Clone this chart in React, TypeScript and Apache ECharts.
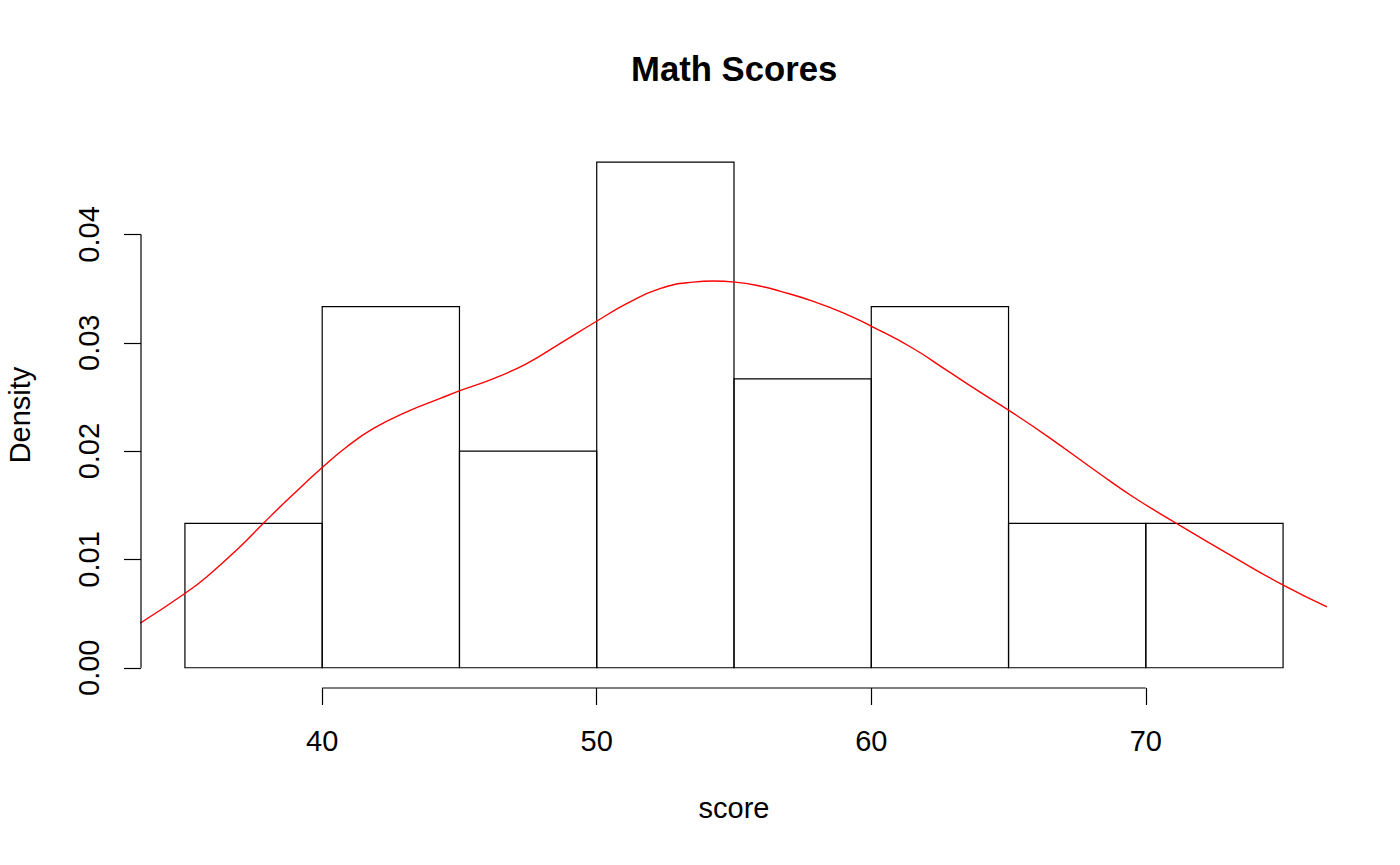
import React, { useEffect, useRef } from "react";
import * as echarts from "echarts";

// Histogram breaks (bin edges) and densities
const breaks = [35, 40, 45, 50, 55, 60, 65, 70, 75];
const densities = [0.013333, 0.033333, 0.02, 0.046667, 0.026667, 0.033333, 0.013333, 0.013333];

// Kernel density estimate
const kdeX = [33.37, 35.01, 35.8, 37.01, 37.86, 38.84, 40.03, 40.9, 41.87, 43.08, 44.3, 45.02, 46.24, 47.45, 48.66, 50.01, 51.09, 52.3, 53.52, 54.24, 55.03, 55.94, 56.67, 57.89, 59.1, 60.01, 61.53, 62.74, 63.95, 65.0, 66.38, 68.32, 69.53, 71.11, 73.17, 74.99, 76.6];
const kdeY = [0.00412, 0.00688, 0.00841, 0.01118, 0.01334, 0.01576, 0.01855, 0.0204, 0.02209, 0.02362, 0.02486, 0.02558, 0.0267, 0.02808, 0.02993, 0.03201, 0.03361, 0.035, 0.0356, 0.0357, 0.0356, 0.03524, 0.03477, 0.03382, 0.03263, 0.03152, 0.02947, 0.02747, 0.02547, 0.02378, 0.02143, 0.01791, 0.01579, 0.01334, 0.01026, 0.00765, 0.00562];

// Axis ticks
const xTicks = [40, 50, 60, 70];
const yTicks = [0, 0.01, 0.02, 0.03, 0.04];

const X_MIN = 33.4;
const X_MAX = 76.6;
const Y_MIN = -0.001867;
const Y_MAX = 0.048533;

const FONT = "'Liberation Sans', Arial, Helvetica, sans-serif";

export default function App() {
  const ref = useRef<HTMLDivElement>(null);

  useEffect(() => {
    document.body.style.margin = "0";
    const chart = echarts.init(ref.current!, null, { renderer: "svg" });

    const histData = densities.map((d, i) => [breaks[i], breaks[i + 1], d]);

    chart.setOption({
      animation: false,
      backgroundColor: "#ffffff",
      title: {
        text: "Math Scores",
        left: 631,
        top: 51,
        padding: 0,
        textStyle: { fontFamily: FONT, fontSize: 34.7, fontWeight: "bold", color: "#000" },
      },
      grid: { left: 141, right: 73, top: 142, bottom: 177, containLabel: false, outerBoundsMode: "none" },
      xAxis: {
        type: "value",
        min: X_MIN,
        max: X_MAX,
        axisLine: { show: false, onZero: false },
        splitLine: { show: false },
        axisTick: { show: true, inside: false, customValues: xTicks, length: 17, lineStyle: { color: "#000", width: 1.2 } },
        axisLabel: {
          customValues: xTicks,
          fontFamily: FONT,
          fontSize: 29,
          color: "#000",
          margin: 38,
        },
        name: "score",
        nameLocation: "middle",
        nameGap: 105,
        nameTextStyle: { fontFamily: FONT, fontSize: 29, color: "#000", verticalAlign: "top" },
      },
      yAxis: {
        type: "value",
        min: Y_MIN,
        max: Y_MAX,
        axisLine: { show: false, onZero: false },
        splitLine: { show: false },
        axisTick: { show: true, inside: false, customValues: yTicks, length: 17, lineStyle: { color: "#000", width: 1.2 } },
        axisLabel: {
          customValues: yTicks,
          formatter: (v: number) => v.toFixed(2),
          rotate: 90,
          align: "center",
          verticalAlign: "bottom",
          fontFamily: FONT,
          fontSize: 29,
          color: "#000",
          margin: 38,
        },
        name: "Density",
        nameLocation: "middle",
        nameRotate: 90,
        nameGap: 107,
        nameTextStyle: { fontFamily: FONT, fontSize: 29, color: "#000", align: "center", verticalAlign: "bottom" },
      },
      series: [
        {
          type: "custom",
          data: histData,
          renderItem: (params: any, api: any) => {
            const x0 = api.value(0);
            const x1 = api.value(1);
            const d = api.value(2);
            const p0 = api.coord([x0, d]);
            const p1 = api.coord([x1, 0]);
            return {
              type: "rect",
              shape: { x: p0[0], y: p0[1], width: p1[0] - p0[0], height: p1[1] - p0[1] },
              style: { fill: "none", stroke: "#000", lineWidth: 1.2 },
            };
          },
          encode: { x: [0, 1], y: 2 },
          silent: true,
          z: 2,
        },
        {
          type: "line",
          data: kdeX.map((x, i) => [x, kdeY[i]]),
          smooth: 0.5,
          showSymbol: false,
          symbol: "none",
          lineStyle: { color: "#ff0000", width: 1.4 },
          silent: true,
          z: 3,
        },
        {
          type: "line",
          data: [
            [xTicks[0], Y_MIN],
            [xTicks[xTicks.length - 1], Y_MIN],
          ],
          showSymbol: false,
          symbol: "none",
          clip: false,
          lineStyle: { color: "#000", width: 1.2 },
          silent: true,
        },
        {
          type: "line",
          data: [
            [X_MIN, yTicks[0]],
            [X_MIN, yTicks[yTicks.length - 1]],
          ],
          showSymbol: false,
          symbol: "none",
          clip: false,
          lineStyle: { color: "#000", width: 1.2 },
          silent: true,
        },
      ],
    });

    return () => chart.dispose();
  }, []);

  return (
    <div
      ref={ref}
      style={{ width: 1400, height: 865, position: "absolute", left: 0, top: 0, background: "#fff" }}
    />
  );
}
